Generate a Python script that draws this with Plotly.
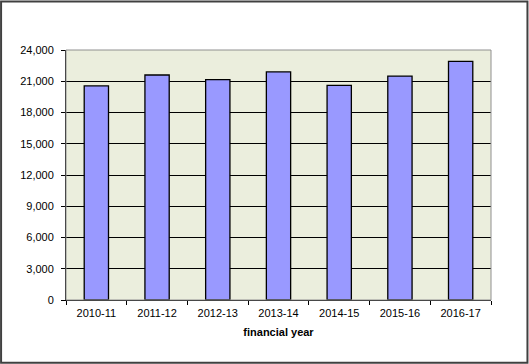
import plotly.graph_objects as go

years = ["2010-11", "2011-12", "2012-13", "2013-14", "2014-15", "2015-16", "2016-17"]
values = [20550, 21600, 21150, 21900, 20600, 21500, 22900]
y_ticks = [0, 3000, 6000, 9000, 12000, 15000, 18000, 21000, 24000]

W, H = 529, 364
L, R, T, B = 66, 37.5, 49.5, 64
pw, ph = W - L - R, H - T - B

def px(x):
    return (x - L) / pw

def py(y):
    return (H - B - y) / ph

fig = go.Figure()
fig.add_trace(go.Bar(
    x=years, y=values,
    marker=dict(color="#9999FF", line=dict(color="#000000", width=1.3)),
    width=0.4,
))

fig.update_layout(
    width=W, height=H,
    margin=dict(l=L, r=R, t=T, b=B, pad=0),
    paper_bgcolor="white",
    plot_bgcolor="#EBEEDD",
    font=dict(family="Liberation Sans, Arial, sans-serif", size=11, color="#000"),
    showlegend=False,
    xaxis=dict(
        type="category",
        tickson="boundaries",
        ticks="outside", ticklen=4, tickcolor="#000",
        ticklabelstandoff=3,
        showgrid=False,
        showline=True, linecolor="#000", linewidth=1,
        mirror=False,
        title=dict(text="<b>financial year</b>", standoff=10, font=dict(size=11)),
    ),
    yaxis=dict(
        range=[0, 24000],
        tickvals=y_ticks,
        tickformat=",d",
        ticks="outside", ticklen=4, tickcolor="#000",
        ticklabelstandoff=5,
        showgrid=True, gridcolor="#000", gridwidth=1,
        showline=True, linecolor="#000", linewidth=1,
        zeroline=False,
    ),
    shapes=[
        dict(type="rect", xref="paper", yref="paper", x0=0, x1=1, y0=0, y1=1,
             line=dict(color="#909090", width=1), fillcolor="rgba(0,0,0,0)", layer="above"),
        dict(type="rect", xref="paper", yref="paper",
             x0=px(1), x1=px(W - 1), y0=py(H - 1), y1=py(1),
             line=dict(color="#404040", width=2), fillcolor="rgba(0,0,0,0)"),
    ],
)

fig.write_html("out.html", config={"displayModeBar": False},
               post_script="document.body.style.margin='0px';document.body.style.overflow='hidden';")
